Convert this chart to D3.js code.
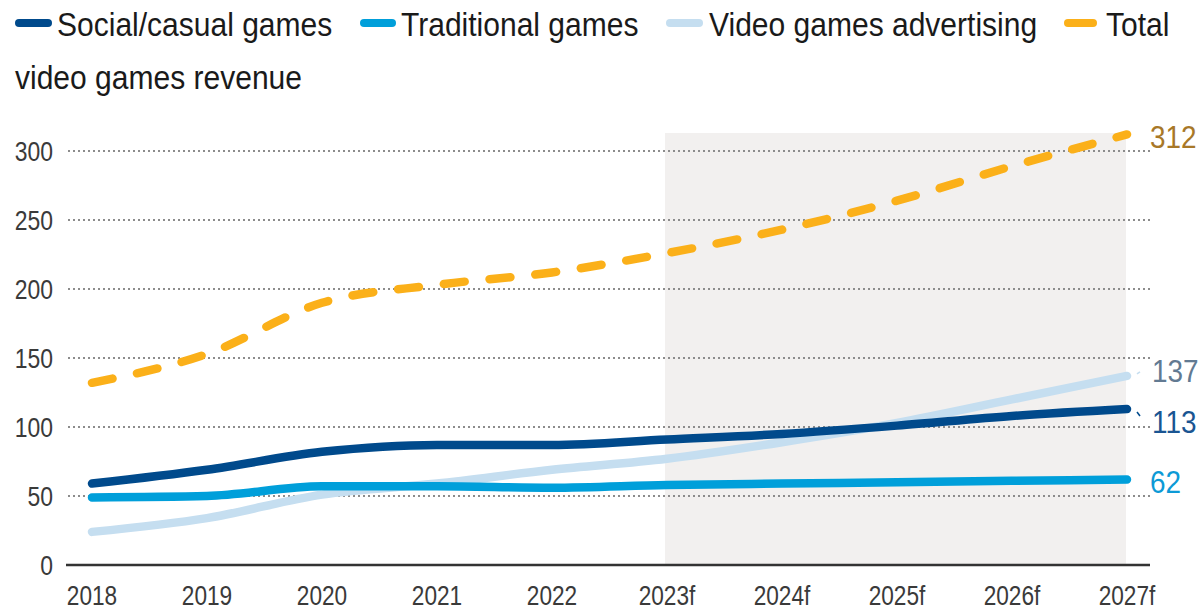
<!DOCTYPE html>
<html>
<head>
<meta charset="utf-8">
<script src="https://cdn.jsdelivr.net/npm/d3@7"></script>
<style>
  html, body { margin: 0; padding: 0; background: #fff; }
  svg { display: block; }
  text { font-family: "Liberation Sans", Arial, sans-serif; }
</style>
</head>
<body>
<svg id="chart" width="1203" height="610"></svg>
<script>
// Video games revenue by segment, 2018–2027 (f = forecast)
const years = ["2018", "2019", "2020", "2021", "2022", "2023f", "2024f", "2025f", "2026f", "2027f"];
const forecastYears = ["2023f", "2027f"];
const yTicks = [0, 50, 100, 150, 200, 250, 300];

const socialCasual = [59, 69, 82, 87, 87, 91, 95, 101, 108, 113];
const traditional  = [49, 50, 57, 57, 56, 58, 59, 60, 61, 62];
const advertising  = [24, 34, 51, 59, 69, 77, 89, 103, 120, 137];
const total        = [132, 153, 190, 203, 212, 226, 243, 264, 289, 312];

const seriesNames  = ["Social/casual games", "Traditional games", "Video games advertising", "Total"];
const seriesColors = ["#004a8c", "#009fda", "#c5def0", "#fbb019"];
const labelColors  = ["#1a5592", "#0c9ad6", "#627a92", "#a87828"];

const svg = d3.select("#chart");

const x = d3.scalePoint().domain(years).range([92, 1127]);
const y = d3.scaleLinear().domain([0, 300]).range([565, 151]);

// horizontally condensed text
function ctext(parent, px, py, str, size, color, anchor, sx) {
  return parent.append("text")
    .attr("transform", `translate(${px},${py}) scale(${sx},1)`)
    .attr("text-anchor", anchor)
    .attr("font-size", size)
    .attr("fill", color)
    .text(str);
}

// forecast band
svg.append("rect")
  .attr("x", x(forecastYears[0]) - 2)
  .attr("y", 133)
  .attr("width", x(forecastYears[1]) - x(forecastYears[0]) + 1)
  .attr("height", y(0) - 133)
  .attr("fill", "#f2f0ef");

// gridlines
svg.append("g").selectAll("line")
  .data(yTicks.filter(d => d > 0))
  .join("line")
  .attr("x1", 68).attr("x2", 1150)
  .attr("y1", d => y(d)).attr("y2", d => y(d))
  .attr("stroke", "#8c8c8c")
  .attr("stroke-width", 2)
  .attr("stroke-dasharray", "2,3");

// baseline
svg.append("line")
  .attr("x1", 66).attr("x2", 1150)
  .attr("y1", y(0)).attr("y2", y(0))
  .attr("stroke", "#333")
  .attr("stroke-width", 2.5);

// y tick labels
const yAxis = svg.append("g");
yTicks.forEach(t => {
  ctext(yAxis, 53, y(t) + 9.5, String(t), 27, "#3a3a3a", "end", 0.85);
});

// x tick labels
const xAxis = svg.append("g");
years.forEach(yr => {
  ctext(xAxis, x(yr), 605, yr, 27, "#3a3a3a", "middle", 0.84);
});

// lines
const line = d3.line()
  .x((d, i) => x(years[i]))
  .y(d => y(d))
  .curve(d3.curveMonotoneX);

const drawOrder = [
  { data: advertising, color: seriesColors[2], dash: null },
  { data: traditional, color: seriesColors[1], dash: null },
  { data: socialCasual, color: seriesColors[0], dash: null },
  { data: total, color: seriesColors[3], dash: "21,25" }
];

drawOrder.forEach(s => {
  svg.append("path")
    .datum(s.data)
    .attr("d", line)
    .attr("fill", "none")
    .attr("stroke", s.color)
    .attr("stroke-width", 8.5)
    .attr("stroke-linecap", "round")
    .attr("stroke-linejoin", "round")
    .attr("stroke-dasharray", s.dash);
});

// end-value labels
const last = years.length - 1;
const xEnd = x(years[last]);
const endLabels = svg.append("g");
ctext(endLabels, xEnd + 23, y(total[last]) + 14, String(total[last]), 31, labelColors[3], "start", 0.9);
ctext(endLabels, xEnd + 25, y(advertising[last]) + 6, String(advertising[last]), 31, labelColors[2], "start", 0.9);
ctext(endLabels, xEnd + 25, y(socialCasual[last]) + 24, String(socialCasual[last]), 31, labelColors[0], "start", 0.9);
ctext(endLabels, xEnd + 23, y(traditional[last]) + 14, String(traditional[last]), 31, labelColors[1], "start", 0.9);

// small leaders to the shifted labels
endLabels.append("line")
  .attr("x1", xEnd + 10).attr("y1", y(advertising[last]) - 2)
  .attr("x2", xEnd + 13).attr("y2", y(advertising[last]) - 4)
  .attr("stroke", seriesColors[2]).attr("stroke-width", 1.5);
endLabels.append("line")
  .attr("x1", xEnd + 10).attr("y1", y(socialCasual[last]) + 3)
  .attr("x2", xEnd + 13).attr("y2", y(socialCasual[last]) + 7)
  .attr("stroke", seriesColors[0]).attr("stroke-width", 1.5);

// legend
const legend = svg.append("g");
const legendItems = [
  { x: 15, w: 37, tx: 57 },
  { x: 360, w: 36, tx: 401 },
  { x: 666, w: 37, tx: 709 },
  { x: 1064, w: 33, tx: 1106 }
];
legendItems.forEach((it, i) => {
  legend.append("line")
    .attr("x1", it.x + 4).attr("x2", it.x + it.w - 4)
    .attr("y1", 23).attr("y2", 23)
    .attr("stroke", seriesColors[i])
    .attr("stroke-width", 8)
    .attr("stroke-linecap", "round");
  ctext(legend, it.tx, 36, seriesNames[i], 33, "#1a1a1a", "start", 0.91);
});
ctext(legend, 15, 89, "video games revenue", 33, "#1a1a1a", "start", 0.91);
</script>
</body>
</html>
